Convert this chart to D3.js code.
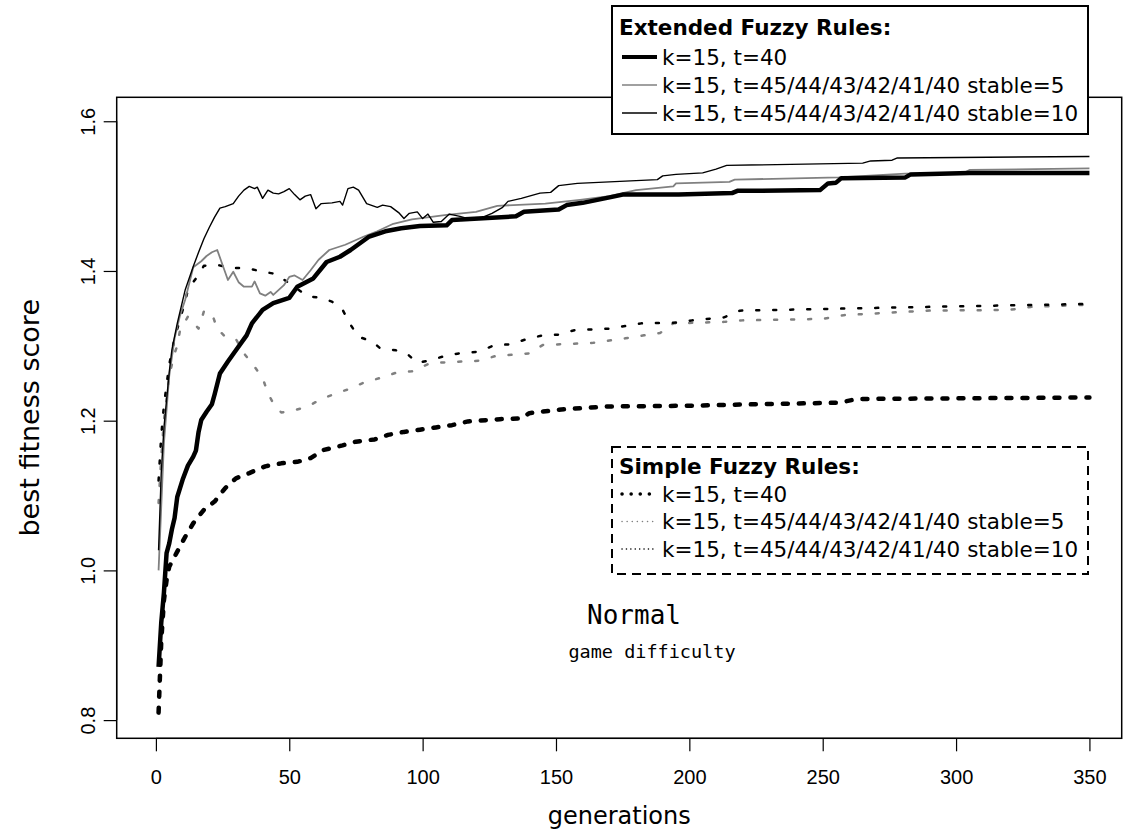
<!DOCTYPE html>
<html>
<head>
<meta charset="utf-8">
<script src="https://cdn.jsdelivr.net/npm/d3@7"></script>
<style>
  body { margin: 0; background: #fff; }
  svg { display: block; }
</style>
</head>
<body>
<div id="chart"></div>
<script>
// ---- data: [generation, best fitness score] ----
const extT40 = [[1,0.871],[2,0.93],[3,0.97],[4,1.023],[5,1.036],[6,1.055],[7,1.07],[8,1.098],[10,1.121],[12,1.14],[14,1.152],[15,1.16],[16,1.185],[17,1.201],[19,1.212],[21,1.222],[22,1.235],[24,1.263],[27,1.279],[30,1.294],[34,1.314],[36,1.33],[40,1.348],[44,1.357],[50,1.364],[53,1.379],[59,1.39],[64,1.412],[69,1.419],[73,1.428],[80,1.446],[86,1.453],[92,1.457],[99,1.46],[109,1.461],[111,1.468],[121,1.47],[135,1.473],[138,1.479],[151,1.482],[154,1.488],[160,1.491],[171,1.499],[175,1.502],[196,1.502],[216,1.504],[218,1.507],[249,1.508],[252,1.517],[255,1.518],[257,1.524],[281,1.525],[283,1.529],[305,1.531],[350,1.531]];

const extStable5 = [[1,1.0],[3,1.17],[5,1.26],[7,1.31],[9,1.34],[11,1.362],[14,1.405],[17,1.413],[19,1.42],[21,1.425],[23,1.428],[25,1.408],[27,1.388],[29,1.399],[31,1.385],[33,1.379],[36,1.379],[37,1.386],[39,1.37],[41,1.367],[43,1.372],[44,1.368],[48,1.381],[50,1.392],[52,1.394],[55,1.388],[58,1.401],[61,1.415],[65,1.428],[71,1.435],[78,1.446],[83,1.453],[89,1.463],[96,1.469],[109,1.475],[120,1.479],[128,1.487],[146,1.49],[159,1.495],[170,1.5],[180,1.508],[194,1.513],[195,1.517],[215,1.519],[217,1.522],[256,1.525],[281,1.53],[303,1.531],[305,1.535],[350,1.537]];

const extStable10 = [[1,1.027],[2,1.13],[3,1.19],[4,1.228],[5,1.265],[6,1.295],[8,1.33],[11,1.375],[14,1.406],[16,1.425],[18,1.443],[20,1.458],[22,1.472],[24,1.484],[26,1.486],[29,1.49],[31,1.5],[33,1.508],[35,1.513],[37,1.51],[38,1.512],[40,1.497],[42,1.508],[44,1.504],[46,1.503],[48,1.506],[50,1.51],[52,1.502],[54,1.495],[56,1.5],[58,1.502],[60,1.483],[62,1.49],[66,1.491],[69,1.493],[70,1.488],[72,1.51],[74,1.512],[76,1.508],[79,1.49],[83,1.485],[85,1.488],[88,1.486],[91,1.478],[93,1.47],[95,1.477],[98,1.479],[100,1.47],[102,1.476],[104,1.465],[107,1.466],[110,1.476],[114,1.473],[117,1.47],[122,1.471],[126,1.477],[130,1.485],[132,1.493],[137,1.497],[144,1.504],[148,1.505],[151,1.514],[158,1.517],[188,1.522],[190,1.527],[195,1.529],[205,1.531],[210,1.536],[214,1.541],[265,1.544],[268,1.547],[276,1.548],[278,1.551],[350,1.553]];

const simT40 = [[1,0.81],[2,0.905],[3,0.96],[4,0.987],[5,1.005],[8,1.025],[11,1.045],[14,1.063],[18,1.081],[22,1.092],[26,1.11],[30,1.123],[35,1.13],[41,1.139],[47,1.143],[53,1.145],[58,1.15],[63,1.161],[70,1.167],[75,1.172],[82,1.175],[87,1.181],[93,1.185],[99,1.188],[105,1.191],[111,1.194],[117,1.199],[129,1.202],[137,1.203],[140,1.21],[147,1.213],[152,1.215],[170,1.219],[200,1.22],[225,1.222],[256,1.224],[263,1.229],[350,1.231]];

const simStable5 = [[1,1.09],[2,1.15],[3,1.2],[5,1.26],[7,1.29],[8,1.3],[9,1.32],[12,1.339],[16,1.323],[18,1.346],[21,1.343],[23,1.323],[26,1.312],[30,1.309],[33,1.29],[37,1.272],[40,1.257],[42,1.237],[44,1.223],[47,1.211],[51,1.213],[57,1.219],[62,1.229],[68,1.237],[73,1.243],[78,1.251],[85,1.258],[90,1.264],[96,1.266],[103,1.277],[121,1.28],[127,1.286],[140,1.29],[145,1.301],[164,1.304],[170,1.307],[176,1.31],[183,1.314],[189,1.317],[194,1.33],[213,1.332],[220,1.334],[250,1.336],[258,1.341],[289,1.347],[320,1.348],[328,1.352],[350,1.355]];

const simStable10 = [[1,1.12],[2,1.18],[3,1.22],[5,1.275],[7,1.31],[9,1.335],[11,1.36],[12,1.375],[15,1.39],[18,1.407],[23,1.408],[29,1.404],[34,1.404],[40,1.399],[45,1.396],[49,1.386],[57,1.366],[62,1.364],[66,1.359],[70,1.348],[73,1.328],[76,1.312],[81,1.306],[84,1.297],[90,1.294],[94,1.29],[98,1.277],[103,1.281],[110,1.288],[116,1.291],[121,1.292],[127,1.301],[133,1.302],[139,1.309],[145,1.314],[151,1.315],[157,1.321],[170,1.323],[182,1.33],[195,1.331],[201,1.334],[213,1.338],[219,1.347],[289,1.352],[350,1.356]];

const xTicks = [0, 50, 100, 150, 200, 250, 300, 350];
const yTicks = [0.8, 1.0, 1.2, 1.4, 1.6];
const extLabels = ["k=15, t=40", "k=15, t=45/44/43/42/41/40 stable=5", "k=15, t=45/44/43/42/41/40 stable=10"];
const simLabels = ["k=15, t=40", "k=15, t=45/44/43/42/41/40 stable=5", "k=15, t=45/44/43/42/41/40 stable=10"];

// ---- layout ----
const W = 1126, H = 832;
const plot = { left: 116.7, right: 1121.7, top: 97.3, bottom: 738.3 };
const sansFont = "'DejaVu Sans', Verdana, sans-serif";
const tickFont = "'Liberation Sans', Arial, sans-serif";
const monoFont = "'DejaVu Sans Mono', monospace";

const svg = d3.select("#chart").append("svg")
  .attr("width", W)
  .attr("height", H);

const x = d3.scaleLinear().domain([-14.7, 362.1]).range([plot.left, plot.right]);
const y = d3.scaleLinear().domain([0.7757, 1.632]).range([plot.bottom, plot.top]);

// styles for each series
const series = [
  { data: simT40, color: "#000", width: 4.5, dash: "5 11", cap: "round" },
  { data: simStable5, color: "#808080", width: 2.5, dash: "3 14", cap: "round" },
  { data: simStable10, color: "#000", width: 2.5, dash: "3 14", cap: "round" },
  { data: extStable5, color: "#808080", width: 1.8, dash: null, cap: "butt" },
  { data: extStable10, color: "#000", width: 1.4, dash: null, cap: "butt" },
  { data: extT40, color: "#000", width: 4.5, dash: null, cap: "butt" }
];

const line = d3.line()
  .x(d => x(d[0]))
  .y(d => y(d[1]));

series.forEach(s => {
  svg.append("path")
    .datum(s.data)
    .attr("d", line)
    .attr("fill", "none")
    .attr("stroke", s.color)
    .attr("stroke-width", s.width)
    .attr("stroke-linecap", s.cap)
    .attr("stroke-linejoin", "round")
    .attr("stroke-dasharray", s.dash);
});

// plot box
svg.append("rect")
  .attr("x", plot.left)
  .attr("y", plot.top)
  .attr("width", plot.right - plot.left)
  .attr("height", plot.bottom - plot.top)
  .attr("fill", "none")
  .attr("stroke", "#000")
  .attr("stroke-width", 1.5);

// x axis
const xAxis = svg.append("g")
  .attr("transform", `translate(0,${plot.bottom})`)
  .call(d3.axisBottom(x).tickValues(xTicks).tickSize(13).tickFormat(d3.format("d")));
xAxis.select(".domain").attr("stroke-width", 1.2).attr("d", `M${x(0)},0H${x(350)}`);
xAxis.selectAll(".tick line").attr("stroke-width", 1.2);
xAxis.selectAll(".tick text")
  .attr("y", 46)
  .attr("dy", 0)
  .style("font-family", tickFont)
  .style("font-size", "20px")
  .attr("fill", "#000");

// y axis with labels parallel to the axis
const yAxis = svg.append("g")
  .attr("transform", `translate(${plot.left},0)`)
  .call(d3.axisLeft(y).tickValues(yTicks).tickSize(13).tickFormat(d3.format(".1f")));
yAxis.select(".domain").attr("stroke-width", 1.2).attr("d", `M0,${y(0.8)}V${y(1.6)}`);
yAxis.selectAll(".tick line").attr("stroke-width", 1.2);
yAxis.selectAll(".tick text")
  .attr("x", 0)
  .attr("y", -22)
  .attr("dy", 0)
  .attr("transform", "rotate(-90)")
  .attr("text-anchor", "middle")
  .style("font-family", tickFont)
  .style("font-size", "20px")
  .attr("fill", "#000");

// axis titles
svg.append("text")
  .attr("x", (plot.left + plot.right) / 2)
  .attr("y", 824)
  .attr("text-anchor", "middle")
  .style("font-family", sansFont)
  .style("font-size", "24px")
  .text("generations");

svg.append("text")
  .attr("transform", `translate(39,${(plot.top + plot.bottom) / 2}) rotate(-90)`)
  .attr("text-anchor", "middle")
  .style("font-family", sansFont)
  .style("font-size", "27px")
  .text("best fitness score");

// annotation inside the plot
svg.append("text")
  .attr("x", 634)
  .attr("y", 624)
  .attr("text-anchor", "middle")
  .style("font-family", monoFont)
  .style("font-size", "26px")
  .text("Normal");

svg.append("text")
  .attr("x", 652)
  .attr("y", 658)
  .attr("text-anchor", "middle")
  .style("font-family", monoFont)
  .style("font-size", "18.5px")
  .text("game difficulty");

// ---- legends ----
function drawLegend(box, title, labels, styles, rowY, boxDash) {
  const g = svg.append("g");
  g.append("rect")
    .attr("x", box.x0)
    .attr("y", box.y0)
    .attr("width", box.x1 - box.x0)
    .attr("height", box.y1 - box.y0)
    .attr("fill", "#fff")
    .attr("stroke", "#000")
    .attr("stroke-width", 2)
    .attr("stroke-dasharray", boxDash);

  g.append("text")
    .attr("x", box.x0 + 7)
    .attr("y", rowY[0] + 7.5)
    .style("font-family", sansFont)
    .style("font-size", "21.5px")
    .style("font-weight", "bold")
    .text(title);

  labels.forEach((lab, i) => {
    const cy = rowY[i + 1];
    const st = styles[i];
    g.append("line")
      .attr("x1", box.x0 + 10)
      .attr("x2", box.x0 + 45)
      .attr("y1", cy)
      .attr("y2", cy)
      .attr("stroke", st.color)
      .attr("stroke-width", st.width)
      .attr("stroke-linecap", st.cap)
      .attr("stroke-dasharray", st.dash);
    g.append("text")
      .attr("x", box.x0 + 50)
      .attr("y", cy + 7.5)
      .style("font-family", sansFont)
      .style("font-size", "21.5px")
      .text(lab);
  });
}

drawLegend(
  { x0: 612, x1: 1088, y0: 6, y1: 134 },
  "Extended Fuzzy Rules:",
  extLabels,
  [
    { color: "#000", width: 4, dash: null, cap: "butt" },
    { color: "#808080", width: 1.5, dash: null, cap: "butt" },
    { color: "#000", width: 1.3, dash: null, cap: "butt" }
  ],
  [27, 57, 85, 113],
  null
);

drawLegend(
  { x0: 612, x1: 1088, y0: 447, y1: 574 },
  "Simple Fuzzy Rules:",
  simLabels,
  [
    { color: "#000", width: 3.5, dash: "0.1 9", cap: "round" },
    { color: "#808080", width: 1.5, dash: "0.1 5", cap: "round" },
    { color: "#000", width: 1.5, dash: "0.1 4.3", cap: "round" }
  ],
  [466, 494, 521.5, 549],
  "9 6"
);
</script>
</body>
</html>
